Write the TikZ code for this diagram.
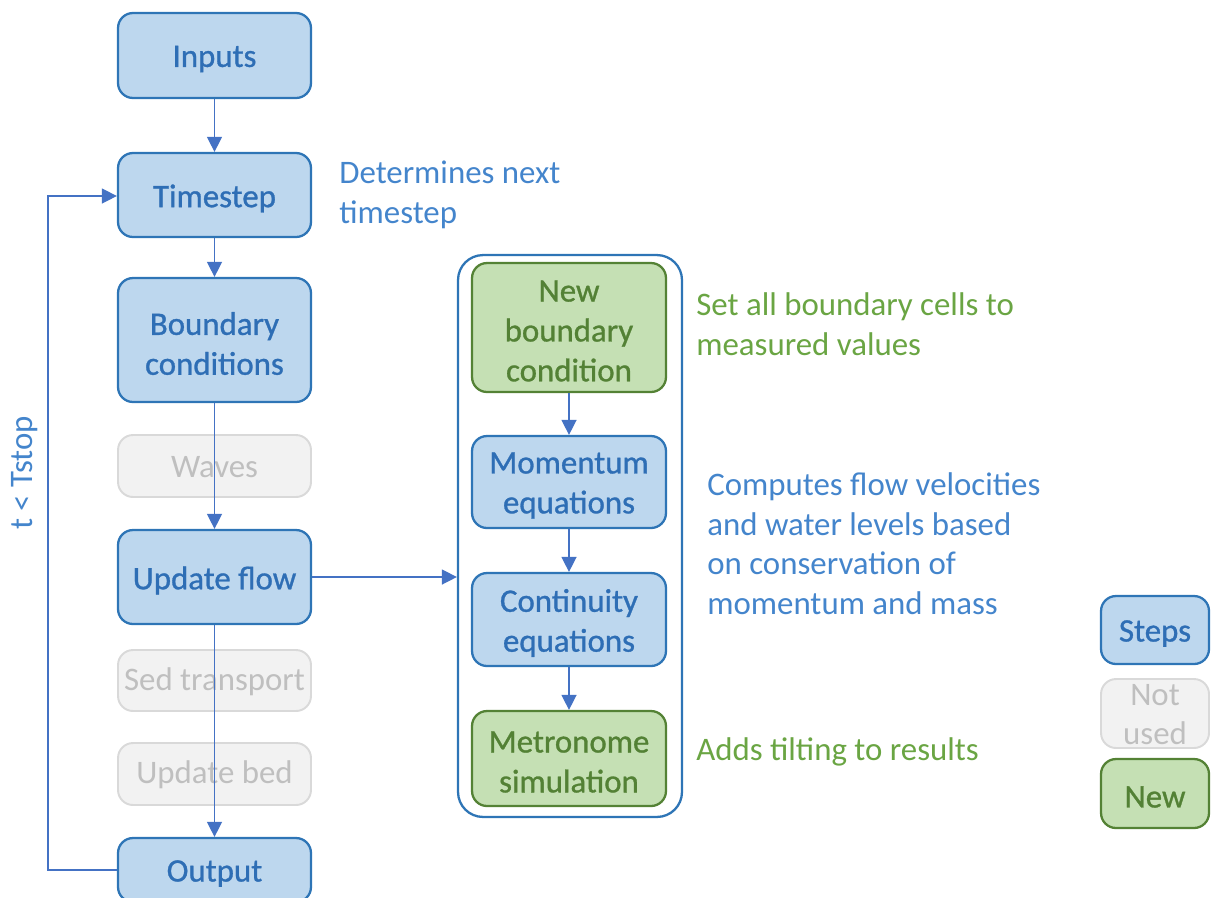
\documentclass[tikz,border=0pt]{standalone}
\usepackage{fontspec}
\setmainfont{Carlito}
\newfontfamily\boxfont[FakeBold=0.9]{Carlito}
\usetikzlibrary{arrows.meta}
\definecolor{bfill}{HTML}{BDD7EE}
\definecolor{bdraw}{HTML}{2E75B6}
\definecolor{btext}{HTML}{2E6EB5}
\definecolor{gfill}{HTML}{C5E0B4}
\definecolor{gdraw}{HTML}{548235}
\definecolor{gtext}{HTML}{538135}
\definecolor{nfill}{HTML}{F2F2F2}
\definecolor{ndraw}{HTML}{D9D9D9}
\definecolor{ntext}{HTML}{BFBFBF}
\definecolor{arrowc}{HTML}{4472C4}
\definecolor{anblue}{HTML}{4485CC}
\definecolor{angreen}{HTML}{6AA543}
\tikzset{
  x=0.02cm, y=-0.02cm,
  txt/.style={font=\fontsize{18.7}{22.7}\selectfont, align=center},
  btxt/.style={font=\boxfont\fontsize{18.7}{22.7}\selectfont, align=center},
  boxbase/.style={line width=1.3pt, rounded corners=0.3cm, inner sep=0pt},
  stepbox/.style={boxbase, draw=bdraw, fill=bfill, label={[btxt, text=btext, yshift=-2pt]center:#1}},
  newbox/.style={boxbase, draw=gdraw, fill=gfill, label={[btxt, text=gtext, yshift=-2pt]center:#1}},
  unusedbox/.style={boxbase, line width=1.1pt, draw=ndraw, fill=nfill, label={[txt, text=ntext, yshift=-0.6pt]center:#1}},
  conn/.style={draw=arrowc, line width=0.8pt, -{Triangle[width=8.5pt,length=8.5pt]}},
  note/.style={font=\fontsize{18.7}{22.7}\selectfont, align=left, anchor=north west, inner sep=0pt},
}
\begin{document}
\begin{tikzpicture}
\useasboundingbox (0,0) rectangle (1212,897);
% left column
\node[stepbox={Inputs}, minimum width=3.86cm, minimum height=1.7cm] (inputs) at (214.5,55.5) {};
\node[stepbox={Timestep}, minimum width=3.86cm, minimum height=1.68cm] (timestep) at (214.5,195) {};
\node[stepbox={Boundary\\conditions}, minimum width=3.86cm, minimum height=2.48cm] (boundary) at (214.5,340) {};
\node[unusedbox={Waves}, minimum width=3.86cm, minimum height=1.24cm] (waves) at (214.5,466) {};
\node[stepbox={Update flow}, minimum width=3.86cm, minimum height=1.88cm] (update) at (214.5,577) {};
\node[unusedbox={Sed transport}, minimum width=3.86cm, minimum height=1.22cm] (sed) at (214.5,680.5) {};
\node[unusedbox={Update bed}, minimum width=3.86cm, minimum height=1.24cm] (bed) at (214.5,774) {};
\node[stepbox={Output}, minimum width=3.86cm, minimum height=1.28cm] (output) at (214.5,870) {};
% container
\node[draw=bdraw, fill=white, line width=1.3pt, rounded corners=0.5cm, minimum width=4.48cm, minimum height=11.24cm, inner sep=0pt] (cont) at (570,536) {};
\node[newbox={New\\boundary\\condition}, minimum width=3.88cm, minimum height=2.58cm] (newbc) at (569,327.5) {};
\node[stepbox={Momentum\\equations}, minimum width=3.88cm, minimum height=1.84cm] (mom) at (569,482) {};
\node[stepbox={Continuity\\equations}, minimum width=3.88cm, minimum height=1.86cm] (cont2) at (569,619.5) {};
\node[newbox={Metronome\\simulation}, minimum width=3.88cm, minimum height=1.9cm] (metro) at (569,758.5) {};
% connectors
\draw[conn] (inputs) -- (timestep);
\draw[conn] (timestep) -- (boundary);
\draw[conn] (boundary) -- (update);
\draw[conn] (update) -- (output);
\draw[conn] (update.east) -- (cont.west |- update.east);
\draw[conn] (newbc) -- (mom);
\draw[conn] (mom) -- (cont2);
\draw[conn] (cont2) -- (metro);
\coordinate (lb) at (48,870);
\coordinate (lt) at (48,196);
\draw[conn] (output.west |- lb) -- (lb) -- (lt) -- (timestep.west |- lt);
\node[txt, text=anblue, rotate=90] (tlabel) at (25,473) {t < Tstop};
% annotations
\node[note, text=anblue] (n1) at (339,161) {Determines next\\timestep};
\node[note, text=angreen] (n2) at (696,292) {Set all boundary cells to\\measured values};
\node[note, text=anblue] (n3) at (707,472) {Computes flow velocities\\and water levels based\\on conservation of\\momentum and mass};
\node[note, text=angreen] (n4) at (696,737) {Adds tilting to results};
% legend
\node[stepbox={Steps}, minimum width=2.16cm, minimum height=1.36cm] (lsteps) at (1155,630) {};
\node[unusedbox={Not\\used}, minimum width=2.16cm, minimum height=1.38cm] (lnot) at (1155,713.5) {};
\node[newbox={New}, minimum width=2.16cm, minimum height=1.38cm] (lnew) at (1155,793.5) {};
\end{tikzpicture}
\end{document}
